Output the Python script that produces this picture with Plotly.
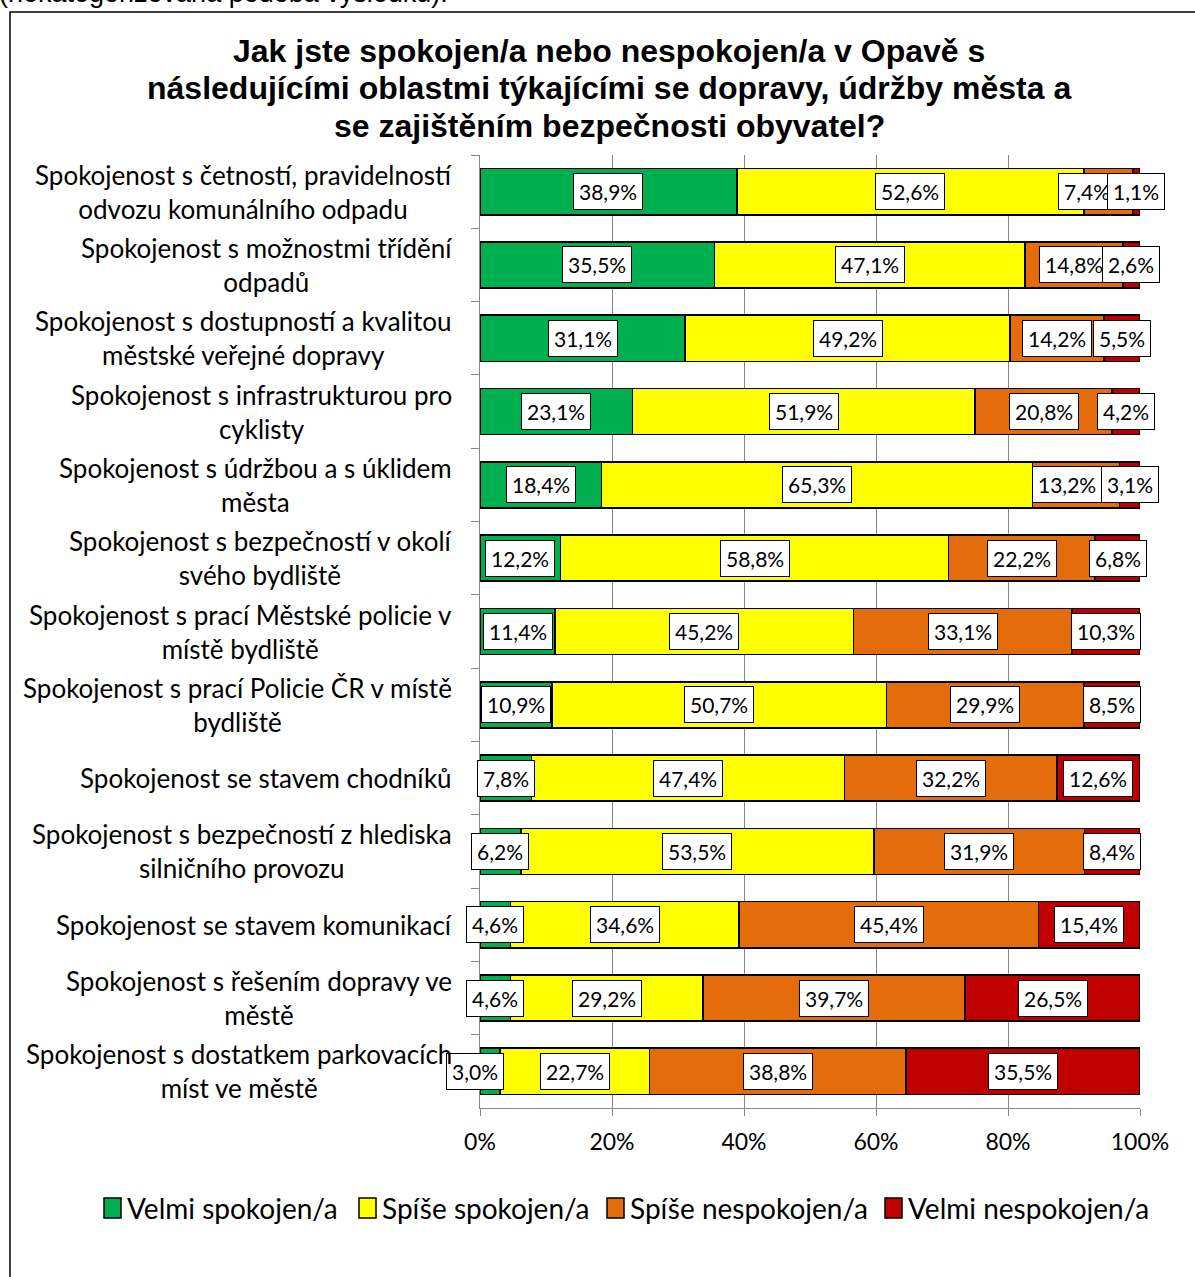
# Spokojenost s dopravou, údržbou města a bezpečností - 100% skládaný pruhový graf
import plotly.graph_objects as go

# Data
categories = [
    'Spokojenost s četností, pravidelností<br>odvozu komunálního odpadu',
    'Spokojenost s možnostmi třídění<br>odpadů',
    'Spokojenost s dostupností a kvalitou<br>městské veřejné dopravy',
    'Spokojenost s infrastrukturou pro<br>cyklisty',
    'Spokojenost s údržbou a s úklidem<br>města',
    'Spokojenost s bezpečností v okolí<br>svého bydliště',
    'Spokojenost s prací Městské policie v<br>místě bydliště',
    'Spokojenost s prací Policie ČR v místě<br>bydliště',
    'Spokojenost se stavem chodníků',
    'Spokojenost s bezpečností z hlediska<br>silničního provozu',
    'Spokojenost se stavem komunikací',
    'Spokojenost s řešením dopravy ve<br>městě',
    'Spokojenost s dostatkem parkovacích<br>míst ve městě',
]
series_names = ['Velmi spokojen/a', 'Spíše spokojen/a', 'Spíše nespokojen/a', 'Velmi nespokojen/a']

velmi_spokojen = [38.9, 35.5, 31.1, 23.1, 18.4, 12.2, 11.4, 10.9, 7.8, 6.2, 4.6, 4.6, 3.0]
spise_spokojen = [52.6, 47.1, 49.2, 51.9, 65.3, 58.8, 45.2, 50.7, 47.4, 53.5, 34.6, 29.2, 22.7]
spise_nespokojen = [7.4, 14.8, 14.2, 20.8, 13.2, 22.2, 33.1, 29.9, 32.2, 31.9, 45.4, 39.7, 38.8]
velmi_nespokojen = [1.1, 2.6, 5.5, 4.2, 3.1, 6.8, 10.3, 8.5, 12.6, 8.4, 15.4, 26.5, 35.5]

x_tickvals = [0, 20, 40, 60, 80, 100]
x_ticklabels = ['0%', '20%', '40%', '60%', '80%', '100%']

title_lines = ['Jak jste spokojen/a nebo nespokojen/a v Opavě s',
               'následujícími oblastmi týkajícími se dopravy, údržby města a',
               'se zajištěním bezpečnosti obyvatel?']
above_text = '(nekategorizovaná podoba výsledku).'

colors = ['#00B050', '#FFFF00', '#E46C0A', '#C00000']
label_font = 'Lato, Calibri, sans-serif'
title_font = 'Liberation Sans, Arial'

# plot area in pixels: x 480..1140, y 155..1108
W, H = 1195, 1277
L, R, T, B = 480, 1140, 155, 1108
def px_x(p):
    return (p - L) / (R - L)
def px_y(p):
    return (B - p) / (B - T)

# manual nudges of a few data labels (as in the original)
label_shift = {(0, 2): -21, (4, 2): -9, (12, 0): -15}
# legend layout (left edge of each marker, in px)
legend_x = [104, 359, 607, 885]
legend_y = 1208

all_series = [velmi_spokojen, spise_spokojen, spise_nespokojen, velmi_nespokojen]

fig = go.Figure()
for name, vals, col in zip(series_names, all_series, colors):
    fig.add_trace(go.Bar(
        y=categories, x=vals, name=name, orientation='h',
        marker=dict(color=col, line=dict(color='black', width=1.6)),
        hoverinfo='skip', showlegend=False,
    ))

annotations = []
shapes = []
# data labels in white boxes
for i, cat in enumerate(categories):
    base = 0
    for j, vals in enumerate(all_series):
        v = vals[i]
        annotations.append(dict(
            x=base + v / 2, y=cat, xref='x', yref='y',
            text=('%.1f%%' % v).replace('.', ','),
            showarrow=False, xshift=label_shift.get((i, j), 0),
            font=dict(family=label_font, size=21, color='black'),
            bgcolor='white', bordercolor='black', borderwidth=1, borderpad=5,
        ))
        base += v

# category labels (centered multi-line blocks, right aligned to the axis)
for cat in categories:
    annotations.append(dict(
        x=0, y=cat, xref='paper', yref='y', xanchor='right', yanchor='middle',
        xshift=-26, text=cat, align='center', showarrow=False,
        font=dict(family=label_font, size=26, color='black'),
    ))

# title, one annotation per line
for k, line in enumerate(title_lines):
    annotations.append(dict(
        x=px_x(609), y=px_y(51 + 37.5 * k), xref='paper', yref='paper',
        xanchor='center', yanchor='middle',
        text='<b>' + line + '</b>', showarrow=False,
        font=dict(family=title_font, size=32, color='black'),
    ))

# cut off text above the chart
annotations.append(dict(
    x=px_x(-3), y=px_y(10), xref='paper', yref='paper',
    xanchor='left', yanchor='bottom', text=above_text, showarrow=False,
    font=dict(family=title_font, size=27, color='black'),
))

# legend drawn by hand (bigger markers like the original)
for name, col, lx in zip(series_names, colors, legend_x):
    shapes.append(dict(type='rect', xref='paper', yref='paper',
                       x0=px_x(lx), x1=px_x(lx + 17),
                       y0=px_y(legend_y + 10), y1=px_y(legend_y - 10),
                       fillcolor=col, line=dict(color='black', width=1.5)))
    annotations.append(dict(
        x=px_x(lx + 21), y=px_y(legend_y), xref='paper', yref='paper',
        xanchor='left', yanchor='middle', text=name, showarrow=False,
        font=dict(family=label_font, size=28, color='black'),
    ))

# outer chart frame
shapes.append(dict(type='rect', xref='paper', yref='paper',
                   x0=px_x(10), x1=px_x(1230), y0=px_y(1300), y1=px_y(12),
                   line=dict(color='black', width=1.5), layer='below'))

fig.update_layout(
    width=W, height=H,
    margin=dict(l=L, r=W - R, t=T, b=H - B),
    barmode='stack', bargap=0.37,
    plot_bgcolor='white', paper_bgcolor='white',
    annotations=annotations, shapes=shapes,
    showlegend=False,
    xaxis=dict(range=[0, 100], tickvals=x_tickvals, ticktext=x_ticklabels,
               showgrid=True, gridcolor='#868686', gridwidth=1,
               zeroline=False, showline=True, linecolor='#868686',
               ticks='outside', ticklen=7, tickcolor='#868686',
               ticklabelstandoff=6,
               tickfont=dict(family=label_font, size=23, color='black')),
    yaxis=dict(range=[12.5, -0.5], type='category', showticklabels=False,
               showline=True, linecolor='#868686', ticks='outside',
               tickson='boundaries', ticklen=8, tickcolor='#868686',
               showgrid=False, zeroline=False),
)

fig.write_html('out.html', config={'displayModeBar': False},
               post_script="document.body.style.margin='0';")
